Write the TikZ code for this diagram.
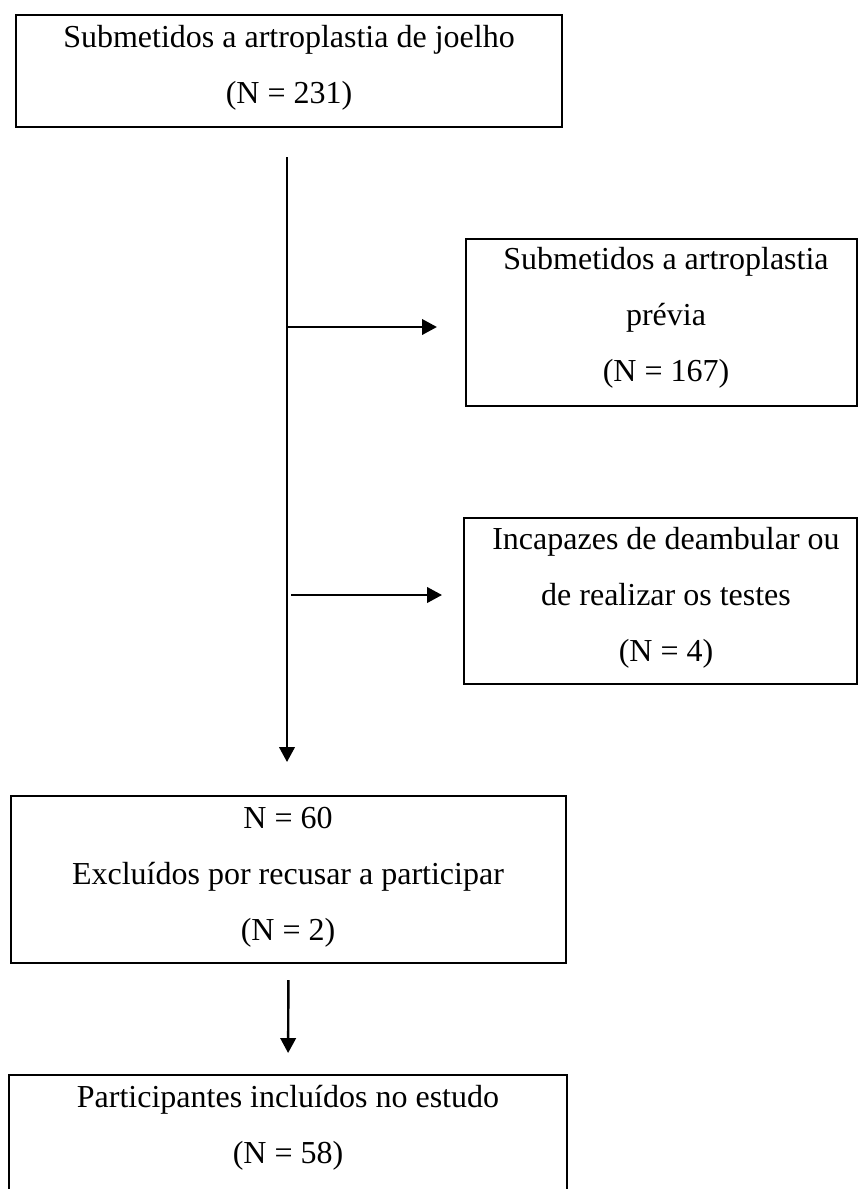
\documentclass[tikz,border=0pt]{standalone}
\usepackage{fontspec}
\setmainfont{Liberation Serif}
\usetikzlibrary{arrows.meta,fit}
\begin{document}
\begin{tikzpicture}[x=0.375pt,y=-0.375pt,
  box/.style={draw=black,line width=0.75pt,inner sep=0pt,outer sep=0pt},
  txt/.style={anchor=base,inner sep=0pt,font=\fontsize{12pt}{14pt}\selectfont},
  flow/.style={line width=0.9pt,-{Triangle[length=5.6pt,width=5.8pt]}}]
\useasboundingbox (0,0) rectangle (858,1189);
% boxes
\node[box,fit={(16,15) (562,127)}] (b1) {};
\node[box,fit={(466,239) (857,406)}] (b2) {};
\node[box,fit={(464,518) (857,684)}] (b3) {};
\node[box,fit={(11,796) (566,963)}] (b4) {};
\node[box,fit={(9,1075) (567,1196)}] (b5) {};
% texts
\node[txt] (t1a) at (289,47) {Submetidos a artroplastia de joelho};
\node[txt] (t1b) at (289,103) {(N = 231)};
\node[txt] (t2a) at (666,269) {Submetidos a artroplastia};
\node[txt] (t2b) at (666,325) {prévia};
\node[txt] (t2c) at (666,381) {(N = 167)};
\node[txt] (t3a) at (666,549) {Incapazes de deambular ou};
\node[txt] (t3b) at (666,605) {de realizar os testes};
\node[txt] (t3c) at (666,661) {(N = 4)};
\node[txt] (t4a) at (288,828) {N = 60};
\node[txt] (t4b) at (288,884) {Excluídos por recusar a participar};
\node[txt] (t4c) at (288,940) {(N = 2)};
\node[txt] (t5a) at (288,1107) {Participantes incluídos no estudo};
\node[txt] (t5b) at (288,1163) {(N = 58)};
% connectors
\coordinate (vtop) at (287,157);
\coordinate (vend) at (287,796);
\coordinate (j1) at (287,327);
\coordinate (j2) at (291,595);
\draw[flow,shorten >=12.75pt] (vtop) -- (vend);
\draw[flow,shorten >=10.9pt] (j1) -- (j1 -| b2.west);
\draw[flow,shorten >=8.25pt] (j2) -- (j2 -| b3.west);
\draw[flow,shorten <=6.4pt,shorten >=8.25pt] (b4.south) -- (b5.north);
\end{tikzpicture}
\end{document}
